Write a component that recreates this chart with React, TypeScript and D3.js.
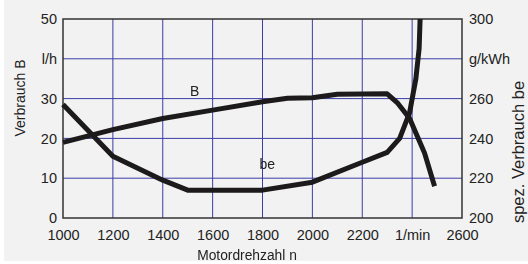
import React, { useEffect, useRef } from "react";
import { select, scaleLinear, line, axisLeft, axisRight, axisBottom, curveLinear } from "d3";

// engine speed (1/min) and fuel consumption B (l/h)
const speedB = [1000, 1200, 1400, 1600, 1800, 1900, 2000, 2100, 2300, 2340, 2390, 2450, 2490];
const consB = [19, 22.2, 25, 27.1, 29.2, 30.1, 30.2, 31.1, 31.2, 29, 25, 16.3, 8];

// engine speed (1/min) and specific consumption be (g/kWh)
const speedBe = [1000, 1200, 1400, 1500, 1800, 2000, 2200, 2300, 2350, 2390, 2415, 2428, 2432];
const consBe = [257, 231, 219, 214, 214, 218, 228, 233, 240, 253, 270, 285, 300];

const xTicks = [1000, 1200, 1400, 1600, 1800, 2000, 2200, 2400, 2600];
const xTickLabels = ["1000", "1200", "1400", "1600", "1800", "2000", "2200", "1/min", "2600"];
const leftTicks = [0, 10, 20, 30, 40, 50];
const leftTickLabels = ["0", "10", "20", "30", "l/h", "50"];
const rightTicks = [200, 220, 240, 260, 280, 300];
const rightTickLabels = ["200", "220", "240", "260", "g/kWh", "300"];

export default function App() {
  const svgRef = useRef<SVGSVGElement>(null);

  useEffect(() => {
    const W = 528;
    const H = 264;
    const plot = { left: 63, right: 462, top: 19, bottom: 218 };
    const font = "'Liberation Sans', Arial, sans-serif";

    const svg = select(svgRef.current);
    svg.selectAll("*").remove();
    svg.attr("width", W).attr("height", H);

    svg.append("rect").attr("x", 4).attr("y", 0).attr("width", W - 4).attr("height", 261).attr("fill", "#f2f2f2");

    const x = scaleLinear().domain([1000, 2600]).range([plot.left, plot.right]);
    const yL = scaleLinear().domain([0, 50]).range([plot.bottom, plot.top]);
    const yR = scaleLinear().domain([200, 300]).range([plot.bottom, plot.top]);

    // grid
    const grid = svg.append("g").attr("stroke", "#3c3ca8").attr("stroke-width", 1);
    grid.selectAll(".vg")
      .data(xTicks.slice(1, -1))
      .join("line")
      .attr("x1", (d) => x(d)).attr("x2", (d) => x(d))
      .attr("y1", plot.top).attr("y2", plot.bottom);
    grid.selectAll(".hg")
      .data(leftTicks.slice(1, -1))
      .join("line")
      .attr("x1", plot.left).attr("x2", plot.right)
      .attr("y1", (d) => yL(d)).attr("y2", (d) => yL(d));

    // frame
    svg.append("rect")
      .attr("x", plot.left).attr("y", plot.top)
      .attr("width", plot.right - plot.left).attr("height", plot.bottom - plot.top)
      .attr("fill", "none").attr("stroke", "#333").attr("stroke-width", 1.5);

    // axes (labels only)
    const styleAxis = (g: any) => {
      g.select(".domain").remove();
      g.selectAll("text").attr("font-family", font).attr("font-size", 14.5).attr("fill", "#222");
    };
    svg.append("g")
      .attr("transform", `translate(${plot.left},0)`)
      .call(axisLeft(yL).tickValues(leftTicks).tickSize(0).tickPadding(6)
        .tickFormat((d, i) => leftTickLabels[i]))
      .call(styleAxis);
    svg.append("g")
      .attr("transform", `translate(${plot.right},0)`)
      .call(axisRight(yR).tickValues(rightTicks).tickSize(0).tickPadding(7)
        .tickFormat((d, i) => rightTickLabels[i]))
      .call(styleAxis);
    svg.append("g")
      .attr("transform", `translate(0,${plot.bottom})`)
      .call(axisBottom(x).tickValues(xTicks).tickSize(0).tickPadding(12)
        .tickFormat((d, i) => xTickLabels[i]))
      .call(styleAxis);

    // curves
    const lineB = line<number>().x((d, i) => x(speedB[i])).y((d) => yL(d)).curve(curveLinear);
    const lineBe = line<number>().x((d, i) => x(speedBe[i])).y((d) => yR(d)).curve(curveLinear);
    svg.append("path").attr("d", lineB(consB)).attr("fill", "none")
      .attr("stroke", "#1c1a1a").attr("stroke-width", 5).attr("stroke-linejoin", "round");
    svg.append("path").attr("d", lineBe(consBe)).attr("fill", "none")
      .attr("stroke", "#1c1a1a").attr("stroke-width", 5).attr("stroke-linejoin", "round");

    // curve labels
    svg.append("text").text("B")
      .attr("x", x(1528)).attr("y", yL(30.6))
      .attr("text-anchor", "middle").attr("font-family", font).attr("font-size", 14).attr("fill", "#222");
    svg.append("text").text("be")
      .attr("x", x(1788)).attr("y", yR(224.6))
      .attr("font-family", font).attr("font-size", 14).attr("fill", "#222");

    // titles
    svg.append("text").text("Motordrehzahl n")
      .attr("x", 247).attr("y", 260)
      .attr("text-anchor", "middle").attr("font-family", font).attr("font-size", 13.8).attr("fill", "#222");
    svg.append("text").text("Verbrauch B")
      .attr("transform", "translate(25,98) rotate(-90)")
      .attr("text-anchor", "middle").attr("font-family", font).attr("font-size", 14).attr("fill", "#222");
    svg.append("text").text("spez. Verbrauch be")
      .attr("transform", "translate(524,152) rotate(-90)")
      .attr("text-anchor", "middle").attr("font-family", font).attr("font-size", 16.5).attr("fill", "#222");
  }, []);

  return (
    <div style={{ position: "fixed", left: 0, top: 0 }}>
      <svg ref={svgRef}></svg>
    </div>
  );
}
